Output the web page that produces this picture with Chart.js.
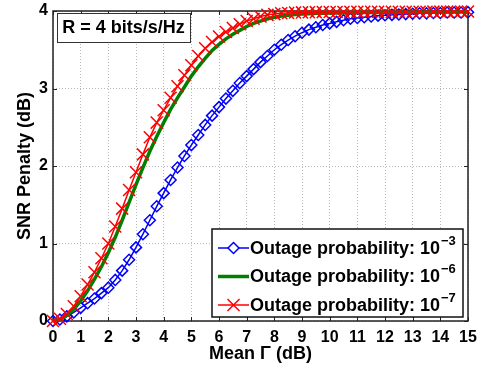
<!DOCTYPE html>
<html>
<head>
  <script src="https://cdn.jsdelivr.net/npm/chart.js"></script>
  <style>
    html, body { margin: 0; padding: 0; background: #fff; }
    canvas { display: block; }
  </style>
</head>
<body>
  <canvas id="penaltyChart" width="478" height="367"></canvas>

  <script>
    // Mean Gamma (dB) sample points, 0.25 dB apart
    var meanGamma = [0, 0.25, 0.5, 0.75, 1, 1.25, 1.5, 1.75, 2, 2.25, 2.5, 2.75, 3, 3.25, 3.5, 3.75,
      4, 4.25, 4.5, 4.75, 5, 5.25, 5.5, 5.75, 6, 6.25, 6.5, 6.75, 7, 7.25, 7.5, 7.75,
      8, 8.25, 8.5, 8.75, 9, 9.25, 9.5, 9.75, 10, 10.25, 10.5, 10.75, 11, 11.25, 11.5, 11.75,
      12, 12.25, 12.5, 12.75, 13, 13.25, 13.5, 13.75, 14, 14.25, 14.5, 14.75, 15];

    // SNR penalty (dB) for each outage probability
    var penalty1e3 = [0, 0.02, 0.06, 0.11, 0.17, 0.23, 0.29, 0.36, 0.43, 0.53, 0.65, 0.79, 0.95, 1.12, 1.30, 1.48,
      1.65, 1.82, 1.98, 2.13, 2.27, 2.40, 2.53, 2.65, 2.76, 2.87, 2.97, 3.07, 3.16, 3.25, 3.34, 3.42,
      3.50, 3.565, 3.625, 3.675, 3.72, 3.76, 3.79, 3.82, 3.84, 3.86, 3.88, 3.90, 3.91, 3.92, 3.93, 3.94,
      3.945, 3.95, 3.955, 3.96, 3.965, 3.97, 3.97, 3.975, 3.975, 3.98, 3.98, 3.98, 3.985];
    var penalty1e6 = [0, 0.02, 0.07, 0.15, 0.26, 0.39, 0.54, 0.70, 0.88, 1.08, 1.30, 1.53, 1.76, 1.98, 2.19, 2.38,
      2.56, 2.73, 2.88, 3.02, 3.16, 3.28, 3.39, 3.49, 3.57, 3.64, 3.70, 3.75, 3.80, 3.84, 3.87, 3.90,
      3.92, 3.935, 3.945, 3.955, 3.96, 3.965, 3.97, 3.97, 3.975, 3.975, 3.978, 3.98, 3.98, 3.98, 3.982, 3.982,
      3.984, 3.984, 3.985, 3.985, 3.986, 3.986, 3.987, 3.987, 3.988, 3.988, 3.988, 3.989, 3.99];
    var penalty1e7 = [0, 0.03, 0.09, 0.19, 0.32, 0.47, 0.63, 0.81, 1.00, 1.22, 1.45, 1.69, 1.92, 2.15, 2.37, 2.56,
      2.72, 2.88, 3.03, 3.17, 3.30, 3.42, 3.52, 3.60, 3.67, 3.73, 3.78, 3.83, 3.87, 3.90, 3.93, 3.95,
      3.96, 3.97, 3.975, 3.98, 3.982, 3.984, 3.985, 3.986, 3.987, 3.988, 3.988, 3.989, 3.989, 3.99, 3.99, 3.99,
      3.99, 3.99, 3.99, 3.991, 3.991, 3.991, 3.991, 3.992, 3.992, 3.992, 3.992, 3.993, 3.993];

    var seriesLabels = ['Outage probability: 10', 'Outage probability: 10', 'Outage probability: 10'];
    var seriesExponents = ['\u22123', '\u22126', '\u22127'];
    var xTicks = [0, 1, 2, 3, 4, 5, 6, 7, 8, 9, 10, 11, 12, 13, 14, 15];
    var yTicks = [0, 1, 2, 3, 4];
    var noteText = 'R = 4 bits/s/Hz';

    var FONT = "'Liberation Sans', Arial, Helvetica, sans-serif";
    Chart.defaults.font.family = FONT;
    Chart.defaults.color = '#000';

    function toPoints(ys) {
      return meanGamma.map(function(x, i) { return {x: x, y: ys[i]}; });
    }

    // MATLAB-like box, inward ticks, text box and legend
    var matlabLook = {
      id: 'matlabLook',
      beforeDatasetsDraw: function(chart) {
        var ctx = chart.ctx, a = chart.chartArea, sx = chart.scales.x, sy = chart.scales.y;
        ctx.save();
        ctx.strokeStyle = '#222';
        ctx.lineWidth = 1;
        ctx.beginPath();
        xTicks.forEach(function(v) {
          var px = Math.round(sx.getPixelForValue(v)) + 0.5;
          ctx.moveTo(px, a.bottom); ctx.lineTo(px, a.bottom - 4);
          ctx.moveTo(px, a.top); ctx.lineTo(px, a.top + 4);
        });
        yTicks.forEach(function(v) {
          var py = Math.round(sy.getPixelForValue(v)) + 0.5;
          ctx.moveTo(a.left, py); ctx.lineTo(a.left + 4, py);
          ctx.moveTo(a.right, py); ctx.lineTo(a.right - 4, py);
        });
        ctx.stroke();
        ctx.lineWidth = 1.5;
        ctx.strokeRect(a.left, a.top, a.right - a.left, a.bottom - a.top);
        ctx.restore();
      },
      afterDraw: function(chart) {
        var ctx = chart.ctx, a = chart.chartArea;
        ctx.save();

        // "R = 4 bits/s/Hz" box
        var nx = a.left + 4, ny = a.top + 2, nw = 133, nh = 29;
        ctx.fillStyle = '#fff';
        ctx.fillRect(nx, ny, nw, nh);
        ctx.strokeStyle = '#333';
        ctx.lineWidth = 1;
        ctx.strokeRect(nx + 0.5, ny + 0.5, nw, nh);
        ctx.fillStyle = '#000';
        ctx.font = 'bold 18px ' + FONT;
        ctx.textAlign = 'center';
        ctx.textBaseline = 'middle';
        ctx.fillText(noteText, nx + nw / 2, ny + nh / 2 + 1);

        // legend
        var lw = 251, lh = 88;
        var lx = a.right - 5 - lw, ly = a.bottom - 4 - lh;
        ctx.fillStyle = '#fff';
        ctx.fillRect(lx, ly, lw, lh);
        ctx.strokeStyle = '#111';
        ctx.lineWidth = 1.5;
        ctx.strokeRect(lx, ly, lw, lh);
        chart.data.datasets.forEach(function(ds, i) {
          var ry = ly + 19 + i * 28.5;
          ctx.strokeStyle = ds.borderColor;
          ctx.lineWidth = ds.borderWidth;
          ctx.beginPath();
          ctx.moveTo(lx + 6, ry);
          ctx.lineTo(lx + 37, ry);
          ctx.stroke();
          if (ds.pointRadius > 0) {
            ctx.lineWidth = ds.pointBorderWidth;
            Chart.helpers.drawPoint(ctx, {pointStyle: ds.pointStyle, radius: ds.pointRadius, rotation: 0, borderWidth: ds.pointBorderWidth}, lx + 21.5, ry);
          }
          ctx.fillStyle = '#000';
          ctx.textAlign = 'left';
          ctx.textBaseline = 'middle';
          ctx.font = 'bold 18px ' + FONT;
          ctx.fillText(seriesLabels[i], lx + 38, ry + 1);
          var tw = ctx.measureText(seriesLabels[i]).width;
          ctx.font = 'bold 13px ' + FONT;
          ctx.fillText(seriesExponents[i], lx + 38 + tw + 1, ry - 7);
        });
        ctx.restore();
      }
    };

    var config = {
      type: 'line',
      data: {
        datasets: [{
          label: seriesLabels[0],
          data: toPoints(penalty1e3),
          borderColor: '#0000ff',
          backgroundColor: 'rgba(0,0,0,0)',
          borderWidth: 1.5,
          pointStyle: 'rectRot',
          pointRadius: 5.5,
          pointBorderWidth: 1.5,
          pointBackgroundColor: 'rgba(0,0,0,0)',
          pointBorderColor: '#0000ff',
          order: 3,
          clip: false
        }, {
          label: seriesLabels[1],
          data: toPoints(penalty1e6),
          borderColor: '#008000',
          backgroundColor: '#008000',
          borderWidth: 3.5,
          pointRadius: 0,
          order: 2,
          clip: false
        }, {
          label: seriesLabels[2],
          data: toPoints(penalty1e7),
          borderColor: '#ff0000',
          backgroundColor: 'rgba(0,0,0,0)',
          borderWidth: 1.5,
          pointStyle: 'crossRot',
          pointRadius: 8.5,
          pointBorderWidth: 1.5,
          pointBorderColor: '#ff0000',
          order: 1,
          clip: false
        }]
      },
      options: {
        responsive: false,
        animation: false,
        events: [],
        layout: { padding: { top: 11, right: 10, left: 0, bottom: 0 } },
        plugins: {
          legend: { display: false },
          tooltip: { enabled: false }
        },
        elements: { line: { tension: 0 } },
        scales: {
          x: {
            type: 'linear',
            min: 0,
            max: 15,
            afterBuildTicks: function(scale) {
              scale.ticks = xTicks.map(function(v) { return {value: v}; });
            },
            afterFit: function(scale) {
              scale.height = 46;
              scale.paddingLeft = 0;
              scale.paddingRight = 0;
            },
            grid: { color: '#b8b8b8', lineWidth: 1, drawTicks: false },
            border: { display: false, dash: [1, 2] },
            ticks: { font: { size: 16, weight: 'bold' }, padding: 7, maxRotation: 0, autoSkip: false },
            title: { display: true, text: 'Mean \u0393 (dB)', font: { size: 18, weight: 'bold' }, padding: { top: 0, bottom: 2 } }
          },
          y: {
            min: 0,
            max: 4,
            afterBuildTicks: function(scale) {
              scale.ticks = yTicks.map(function(v) { return {value: v}; });
            },
            afterFit: function(scale) {
              scale.width = 53;
              scale.paddingTop = 0;
              scale.paddingBottom = 0;
            },
            grid: { color: '#b8b8b8', lineWidth: 1, drawTicks: false },
            border: { display: false, dash: [1, 2] },
            ticks: { font: { size: 16, weight: 'bold' }, padding: 5 },
            title: { display: true, text: 'SNR Penalty (dB)', font: { size: 18, weight: 'bold' }, padding: { top: 14, bottom: 0 } }
          }
        }
      },
      plugins: [matlabLook]
    };

    var ctx = document.getElementById('penaltyChart').getContext('2d');
    new Chart(ctx, config);
  </script>
</body>
</html>
